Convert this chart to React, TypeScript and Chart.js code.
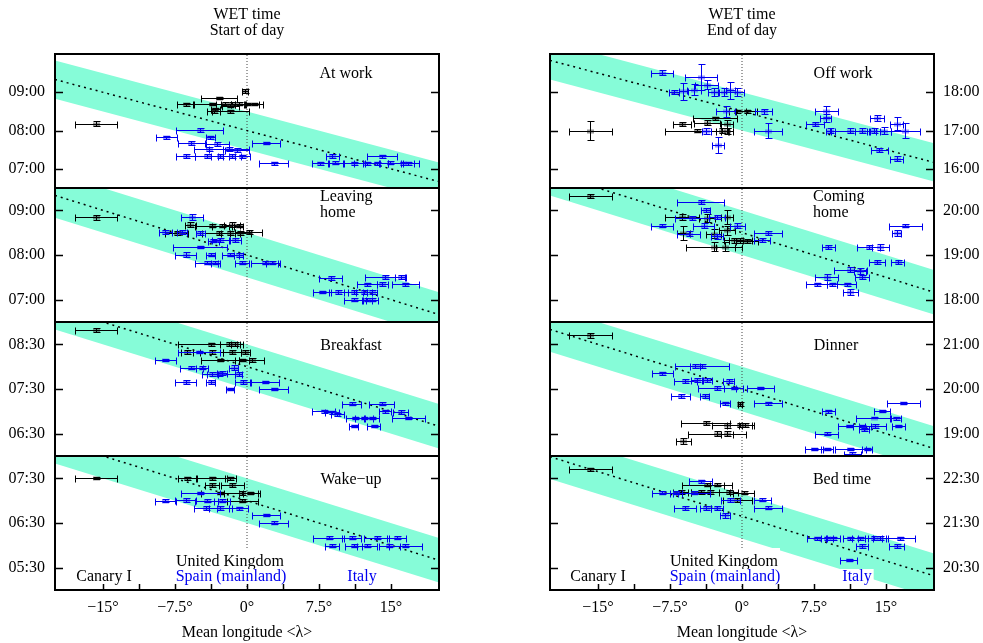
import React, { useEffect, useRef } from 'react';
import { Chart, registerables } from 'chart.js';

Chart.register(...registerables);

const FONT = "'Liberation Serif', 'Times New Roman', serif";
Chart.defaults.font.family = FONT;
Chart.defaults.font.size = 16;
Chart.defaults.color = '#000';

type Pt = [number, number, number, number]; // longitude, longitude error, time (h), time error (h)

// ---------------- axes / text ----------------
const lonRange = [-20, 20];
const lonTicks = [-15, -11.25, -7.5, -3.75, 0, 3.75, 7.5, 11.25, 15];
const lonTickLabels = ['−15°', '', '−7.5°', '', '0°', '', '7.5°', '', '15°'];
const xTitle = 'Mean longitude <λ>';
const columnTitles = [['WET time', 'Start of day'], ['WET time', 'End of day']];
const countryNames = ['United Kingdom', 'Canary I', 'Spain (mainland)', 'Italy'];

const panelNames = [['At work'], ['Leaving', 'home'], ['Breakfast'], ['Wake−up'], ['Off work'], ['Coming', 'home'], ['Dinner'], ['Bed time']];
const timeRanges = [[6.5, 10], [6.5, 9.5], [6, 9], [5, 8], [15.5, 19], [17.5, 20.5], [18.5, 21.5], [20, 23]];
const timeTicks = [[7, 8, 9], [7, 8, 9], [6.5, 7.5, 8.5], [5.5, 6.5, 7.5], [16, 17, 18], [18, 19, 20], [19, 20, 21], [20.5, 21.5, 22.5]];
const timeTickLabels = [
  ['07:00', '08:00', '09:00'], ['07:00', '08:00', '09:00'], ['06:30', '07:30', '08:30'], ['05:30', '06:30', '07:30'],
  ['16:00', '17:00', '18:00'], ['18:00', '19:00', '20:00'], ['19:00', '20:00', '21:00'], ['20:30', '21:30', '22:30'],
];
const fitIntercepts = [8.0, 8.0, 8.0, 7.0, 17.5, 19.5, 20.0, 21.65];
const fitSlope = -1 / 15;
const bandHalfWidth = 0.5;

// ---------------- data ----------------
const atWorkBlack: Pt[] = [
  [-15.7, 2.2, 8.18, 0.07], [-2.95, 1.86, 8.85, 0.03], [-0.17, 0.3, 9.03, 0.05], [-6.4, 0.85, 8.69, 0.04],
  [-3.65, 2.0, 8.69, 0.03], [-2.26, 1.0, 8.7, 0.04], [-1.56, 1.2, 8.7, 0.04], [-0.87, 0.8, 8.7, 0.04],
  [0.0, 1.2, 8.69, 0.03], [0.69, 0.95, 8.69, 0.03], [-1.74, 0.9, 8.65, 0.04], [-3.47, 0.7, 8.5, 0.05],
  [-1.74, 1.9, 8.5, 0.04], [-3.3, 0.5, 8.56, 0.04],
];
const atWorkBlue: Pt[] = [
  [-4.93, 2.43, 8.02, 0.05], [-8.4, 1.08, 7.82, 0.03], [-3.82, 0.5, 7.82, 0.04], [-5.8, 1.42, 7.67, 0.05],
  [-3.1, 1.2, 7.65, 0.05], [2.0, 1.44, 7.67, 0.03], [-4.0, 1.5, 7.51, 0.05], [-1.9, 2.1, 7.51, 0.05],
  [-1.04, 1.2, 7.49, 0.05], [-6.4, 0.95, 7.33, 0.05], [-4.2, 1.2, 7.33, 0.05], [-2.8, 0.9, 7.33, 0.05],
  [-1.56, 0.95, 7.33, 0.05], [-0.5, 0.8, 7.33, 0.04], [2.78, 1.5, 7.14, 0.05], [8.9, 0.7, 7.33, 0.05],
  [14.06, 1.56, 7.33, 0.04], [7.64, 0.9, 7.14, 0.05], [9.2, 0.8, 7.16, 0.04], [11.1, 1.0, 7.14, 0.04],
  [12.5, 1.4, 7.14, 0.04], [13.5, 1.2, 7.14, 0.05], [14.9, 1.1, 7.16, 0.04], [16.3, 1.6, 7.14, 0.05],
  [16.8, 0.6, 7.14, 0.04],
];
const leavingBlack: Pt[] = [
  [-15.7, 2.2, 8.84, 0.06], [-3.65, 1.8, 8.66, 0.04], [-2.6, 1.0, 8.66, 0.04], [-1.56, 0.8, 8.68, 0.05],
  [-0.87, 0.5, 8.66, 0.04], [-5.9, 0.6, 8.68, 0.06], [-7.3, 1.2, 8.49, 0.04], [-2.95, 1.7, 8.49, 0.04],
  [-1.74, 1.0, 8.49, 0.05], [-0.69, 1.1, 8.49, 0.04], [0.17, 1.4, 8.51, 0.04],
];
const leavingBlue: Pt[] = [
  [-5.73, 1.15, 8.85, 0.06], [-8.5, 0.7, 8.51, 0.04], [-6.8, 0.5, 8.51, 0.04], [-4.86, 0.5, 8.49, 0.04],
  [-3.5, 0.6, 8.32, 0.04], [-2.78, 0.9, 8.34, 0.05], [-1.2, 0.6, 8.34, 0.05], [-4.93, 2.8, 8.18, 0.03],
  [-6.4, 1.1, 8.01, 0.05], [-3.8, 0.5, 8.01, 0.04], [-1.74, 0.9, 8.01, 0.04], [-0.87, 0.5, 8.0, 0.04],
  [-4.2, 1.2, 7.83, 0.04], [-3.3, 0.5, 7.83, 0.04], [-0.5, 0.7, 7.83, 0.04], [1.9, 1.5, 7.83, 0.03],
  [2.6, 0.6, 7.83, 0.03], [8.7, 1.2, 7.49, 0.05], [14.4, 2.1, 7.51, 0.04], [16.0, 0.6, 7.51, 0.04],
  [12.5, 1.0, 7.34, 0.04], [14.1, 0.6, 7.35, 0.04], [16.5, 1.4, 7.34, 0.03], [7.8, 0.9, 7.17, 0.03],
  [9.5, 1.0, 7.17, 0.04], [11.1, 1.0, 7.17, 0.04], [12.2, 0.8, 7.17, 0.04], [13.0, 0.5, 7.17, 0.04],
  [11.1, 1.0, 7.0, 0.03], [12.5, 0.5, 7.0, 0.03], [13.0, 0.6, 7.0, 0.03],
];
const breakfastBlack: Pt[] = [
  [-15.7, 2.2, 8.82, 0.04], [-3.8, 3.4, 8.5, 0.04], [-1.9, 0.9, 8.51, 0.05], [-1.2, 0.5, 8.51, 0.05],
  [-6.25, 0.6, 8.33, 0.05], [-3.65, 1.2, 8.33, 0.04], [-1.56, 0.9, 8.33, 0.04], [-0.17, 0.5, 8.33, 0.04],
  [-2.8, 2.0, 8.15, 0.03], [-0.5, 0.7, 8.15, 0.03], [0.5, 1.3, 8.15, 0.04],
];
const breakfastBlue: Pt[] = [
  [-8.5, 1.1, 8.15, 0.03], [-5.0, 2.2, 8.33, 0.03], [-5.8, 1.2, 7.98, 0.04], [-4.7, 0.6, 7.98, 0.04],
  [-1.4, 0.5, 7.98, 0.05], [-2.95, 1.7, 7.83, 0.04], [-3.6, 0.6, 7.83, 0.04], [-2.6, 0.5, 7.86, 0.04],
  [-0.87, 0.4, 7.83, 0.04], [-6.4, 1.1, 7.66, 0.05], [-3.8, 0.5, 7.66, 0.04], [-0.45, 0.8, 7.66, 0.04],
  [1.9, 1.44, 7.66, 0.03], [-1.8, 0.4, 7.5, 0.03], [2.78, 1.5, 7.5, 0.03], [10.9, 1.0, 7.17, 0.03],
  [14.06, 1.3, 7.17, 0.03], [8.0, 1.2, 7.0, 0.03], [8.85, 0.7, 6.98, 0.03], [14.4, 0.6, 7.0, 0.03],
  [16.0, 0.8, 6.98, 0.04], [9.4, 0.7, 6.93, 0.03], [11.3, 1.0, 6.85, 0.03], [12.2, 0.9, 6.85, 0.03],
  [13.0, 0.8, 6.85, 0.03], [16.8, 1.7, 6.85, 0.03], [11.1, 0.5, 6.67, 0.03], [13.2, 0.7, 6.67, 0.03],
];
const wakeBlack: Pt[] = [
  [-15.7, 2.2, 7.51, 0.03], [-6.25, 0.9, 7.5, 0.04], [-3.65, 1.6, 7.5, 0.03], [-1.74, 0.55, 7.5, 0.04],
  [-3.65, 0.7, 7.35, 0.04], [-1.56, 1.2, 7.35, 0.04], [-2.8, 2.0, 7.17, 0.03], [-0.5, 1.9, 7.17, 0.04],
  [0.35, 0.8, 7.17, 0.03], [-0.5, 1.6, 7.0, 0.03],
];
const wakeBlue: Pt[] = [
  [-8.5, 1.1, 7.0, 0.04], [-6.4, 1.1, 7.01, 0.04], [-4.86, 2.0, 7.17, 0.03], [-4.2, 1.2, 7.0, 0.04],
  [-2.6, 0.8, 7.0, 0.04], [-4.3, 1.2, 6.83, 0.04], [-2.8, 1.2, 6.83, 0.04], [-0.87, 1.0, 6.83, 0.03],
  [2.0, 1.44, 6.68, 0.03], [2.78, 1.5, 6.51, 0.03], [8.5, 1.6, 6.17, 0.03], [10.9, 1.0, 6.17, 0.03],
  [13.5, 1.3, 6.17, 0.03], [15.6, 1.0, 6.17, 0.03], [8.85, 0.75, 5.99, 0.03], [11.1, 0.9, 5.99, 0.03],
  [12.5, 1.0, 5.99, 0.03], [14.8, 1.1, 5.99, 0.03], [16.5, 1.7, 5.99, 0.03],
];
const offWorkBlack: Pt[] = [
  [-15.8, 2.25, 17.0, 0.25], [-6.25, 0.9, 17.18, 0.05], [-4.7, 3.3, 17.0, 0.04], [-3.65, 1.4, 17.21, 0.06],
  [-2.8, 2.3, 17.32, 0.04], [-1.56, 0.6, 17.18, 0.1], [-1.56, 0.6, 17.0, 0.08], [-2.1, 0.6, 17.0, 0.06],
  [-0.5, 0.9, 17.5, 0.04], [0.5, 1.1, 17.5, 0.04],
];
const offWorkBlue: Pt[] = [
  [-8.3, 1.15, 18.51, 0.07], [-4.3, 1.65, 18.4, 0.35], [-6.1, 0.5, 18.03, 0.22], [-5.0, 0.7, 18.07, 0.15],
  [-3.65, 1.2, 18.2, 0.12], [-2.95, 0.6, 18.0, 0.1], [-1.9, 0.6, 18.0, 0.1], [-1.2, 0.5, 18.05, 0.23],
  [-0.5, 0.7, 18.0, 0.1], [-7.1, 0.5, 18.0, 0.05], [-1.7, 1.0, 17.5, 0.15], [2.26, 0.9, 17.5, 0.06],
  [2.7, 1.5, 17.0, 0.2], [-3.7, 0.5, 17.0, 0.08], [-2.5, 0.6, 16.62, 0.2], [8.8, 1.2, 17.5, 0.15],
  [8.7, 0.6, 17.32, 0.1], [7.6, 0.9, 17.18, 0.05], [9.2, 0.5, 17.0, 0.06], [11.3, 2.0, 17.0, 0.06],
  [12.5, 0.7, 17.0, 0.06], [13.7, 0.7, 17.0, 0.06], [14.75, 0.75, 17.0, 0.1], [17.0, 1.5, 17.0, 0.2],
  [14.06, 0.75, 17.32, 0.08], [16.1, 0.7, 17.18, 0.17], [14.3, 0.9, 16.5, 0.05], [16.1, 0.7, 16.27, 0.06],
];
const comingBlack: Pt[] = [
  [-15.8, 2.25, 20.32, 0.05], [-6.25, 1.8, 19.85, 0.07], [-6.1, 0.7, 19.49, 0.15], [-3.65, 0.8, 19.83, 0.08],
  [-2.95, 0.8, 19.48, 0.1], [-2.95, 2.9, 19.18, 0.1], [-1.74, 1.0, 19.18, 0.1], [-1.56, 0.6, 19.85, 0.15],
  [-1.56, 0.8, 19.55, 0.1], [-0.87, 1.0, 19.33, 0.06], [-0.17, 1.2, 19.33, 0.06], [0.52, 1.1, 19.31, 0.05],
];
const comingBlue: Pt[] = [
  [-4.3, 2.45, 20.19, 0.05], [-3.8, 0.5, 20.01, 0.05], [-8.3, 1.15, 19.66, 0.04], [-5.2, 1.8, 19.83, 0.05],
  [-4.0, 1.1, 19.66, 0.05], [-2.6, 0.8, 19.85, 0.05], [-5.55, 1.2, 19.48, 0.05], [-0.5, 0.8, 19.66, 0.05],
  [-2.6, 0.6, 19.42, 0.06], [2.7, 1.5, 19.49, 0.05], [2.1, 0.8, 19.33, 0.04], [17.0, 1.7, 19.66, 0.04],
  [16.1, 0.5, 19.49, 0.06], [9.0, 0.7, 19.18, 0.05], [13.2, 1.2, 19.18, 0.05], [14.4, 0.9, 19.18, 0.06],
  [14.06, 0.8, 18.84, 0.05], [16.2, 0.7, 18.84, 0.04], [11.3, 1.7, 18.67, 0.06], [12.3, 0.6, 18.64, 0.06],
  [12.5, 0.7, 18.51, 0.05], [8.85, 1.2, 18.51, 0.06], [7.8, 1.1, 18.34, 0.03], [9.4, 0.5, 18.34, 0.04],
  [10.9, 1.0, 18.34, 0.04], [11.3, 0.8, 18.17, 0.06],
];
const dinnerBlack: Pt[] = [
  [-15.8, 2.25, 21.2, 0.05], [-0.17, 0.2, 19.66, 0.05], [-3.8, 2.6, 19.24, 0.05], [-1.56, 1.6, 19.19, 0.06],
  [-0.17, 1.4, 19.19, 0.05], [0.35, 0.7, 19.19, 0.04], [-2.6, 3.0, 19.0, 0.05], [-1.56, 0.6, 19.0, 0.05],
  [-6.1, 0.8, 18.83, 0.07],
];
const dinnerBlue: Pt[] = [
  [-4.2, 2.8, 20.52, 0.05], [-4.9, 0.5, 20.52, 0.05], [-8.3, 1.1, 20.35, 0.03], [-5.9, 1.2, 20.18, 0.04],
  [-4.7, 0.6, 20.2, 0.04], [-3.65, 0.5, 20.2, 0.04], [-1.4, 0.6, 20.18, 0.04], [-2.6, 2.0, 20.02, 0.04],
  [-0.87, 1.0, 20.02, 0.03], [1.9, 1.4, 20.02, 0.03], [-6.4, 1.0, 19.84, 0.04], [-3.9, 0.5, 19.84, 0.04],
  [-1.74, 0.5, 19.68, 0.04], [2.7, 1.5, 19.68, 0.04], [16.8, 1.7, 19.68, 0.02], [9.0, 0.7, 19.5, 0.04],
  [14.6, 0.8, 19.5, 0.02], [16.0, 0.6, 19.34, 0.04], [13.7, 1.8, 19.36, 0.02], [11.1, 1.1, 19.17, 0.03],
  [12.5, 0.9, 19.17, 0.03], [13.9, 1.1, 19.17, 0.04], [16.3, 0.7, 19.17, 0.03], [12.7, 0.5, 19.1, 0.03],
  [8.85, 1.2, 19.0, 0.03], [7.5, 0.9, 18.66, 0.02], [8.85, 0.6, 18.66, 0.02], [11.3, 1.6, 18.66, 0.02],
  [13.0, 0.5, 18.66, 0.02], [11.5, 0.85, 18.55, 0.04],
];
const bedBlack: Pt[] = [
  [-15.8, 2.25, 22.7, 0.03], [-3.65, 2.6, 22.36, 0.04], [-2.6, 0.7, 22.36, 0.03], [-6.4, 0.8, 22.19, 0.05],
  [-3.3, 2.0, 22.19, 0.04], [-1.4, 1.0, 22.19, 0.05], [0.17, 1.1, 22.18, 0.04], [-0.5, 1.5, 22.02, 0.04],
  [-4.3, 1.0, 22.2, 0.04],
];
const bedBlue: Pt[] = [
  [-4.3, 1.2, 22.43, 0.03], [-8.3, 1.1, 22.18, 0.03], [-5.0, 1.7, 22.18, 0.04], [-6.9, 0.6, 22.18, 0.04],
  [-1.2, 1.0, 22.02, 0.04], [2.1, 0.9, 22.02, 0.03], [-5.9, 1.15, 21.84, 0.04], [-3.8, 0.55, 21.84, 0.04],
  [-2.6, 0.6, 21.84, 0.04], [2.7, 1.5, 21.84, 0.03], [-1.74, 0.5, 21.67, 0.05], [7.8, 1.05, 21.16, 0.03],
  [8.85, 0.6, 21.16, 0.03], [9.5, 0.7, 21.16, 0.03], [11.3, 0.8, 21.16, 0.03], [12.3, 0.8, 21.16, 0.03],
  [13.7, 0.9, 21.16, 0.04], [14.4, 0.8, 21.16, 0.04], [16.5, 1.5, 21.16, 0.03], [12.5, 0.6, 20.99, 0.04],
  [16.1, 0.75, 20.99, 0.04], [11.1, 0.85, 20.67, 0.03],
];

const blackSeries = [atWorkBlack, leavingBlack, breakfastBlack, wakeBlack, offWorkBlack, comingBlack, dinnerBlack, bedBlack];
const blueSeries = [atWorkBlue, leavingBlue, breakfastBlue, wakeBlue, offWorkBlue, comingBlue, dinnerBlue, bedBlue];

// ---------------- styling / layout ----------------
const BLACK = '#000000';
const BLUE = '#0000f0';
const BAND = '#86fcd8';
const MARK = { [BLACK]: 'rgba(60,60,60,0.55)', [BLUE]: 'rgba(70,70,255,0.55)' } as Record<string, string>;

// panel name placement, relative to the plot area (px)
const nameLayout = [
  { x: 291, y: 20, align: 'center' }, { x: 265, y: 9, align: 'left' }, { x: 296, y: 24, align: 'center' }, { x: 296, y: 24, align: 'center' },
  { x: 293, y: 20, align: 'center' }, { x: 263, y: 9, align: 'left' }, { x: 286, y: 24, align: 'center' }, { x: 292, y: 24, align: 'center' },
];
const countryLayout = [
  [{ x: 175, y: 106, c: BLACK, top: 6 }, { x: 49, y: 121, c: BLACK, top: 0 }, { x: 176, y: 121, c: BLUE, top: 0 }, { x: 307, y: 121, c: BLUE, top: 0 }],
  [{ x: 174, y: 106, c: BLACK, top: 6 }, { x: 48, y: 121, c: BLACK, top: 0 }, { x: 175, y: 121, c: BLUE, top: 0 }, { x: 307, y: 121, c: BLUE, top: 0 }],
];

function canvasGeom(col: number, row: number) {
  const l = col === 0 ? 0 : 540;
  const w = col === 0 ? 449 : 443;
  if (row === 0) return { l, w, t: 0, h: 191 };
  if (row === 3) return { l, w, t: 453, h: 190 };
  return { l, w, t: 54 + 134 * row - 3, h: 140 };
}

function buildConfig(idx: number): any {
  const col = idx < 4 ? 0 : 1;
  const row = idx % 4;
  const isLeft = col === 0;
  const isTop = row === 0;
  const isBottom = row === 3;
  const [yMin, yMax] = timeRanges[idx];
  const fitAt = (lon: number) => fitIntercepts[idx] + fitSlope * lon;
  const [lo, hi] = lonRange;
  const toPts = (arr: Pt[]) => arr.map(([x, xe, y, ye]) => ({ x, y, xe, ye }));

  const deco = {
    id: 'deco',
    afterDatasetsDraw(chart: any) {
      const { ctx, chartArea: a } = chart;
      const xs = chart.scales.x;
      const ys = chart.scales.y;
      ctx.save();
      ctx.beginPath();
      ctx.rect(a.left, a.top, a.right - a.left, a.bottom - a.top);
      ctx.clip();
      chart.data.datasets.forEach((ds: any) => {
        if (!ds.errorBars) return;
        ctx.lineWidth = 1;
        ds.data.forEach((p: any) => {
          const px = Math.round(xs.getPixelForValue(p.x)) + 0.5;
          const py = Math.round(ys.getPixelForValue(p.y)) + 0.5;
          const x0 = Math.round(xs.getPixelForValue(p.x - p.xe)) + 0.5;
          const x1 = Math.round(xs.getPixelForValue(p.x + p.xe)) + 0.5;
          const y0 = Math.round(ys.getPixelForValue(p.y - p.ye)) + 0.5;
          const y1 = Math.round(ys.getPixelForValue(p.y + p.ye)) + 0.5;
          ctx.fillStyle = MARK[ds.borderColor];
          ctx.fillRect(px - 3.5, py - 2, 7, 4);
          ctx.strokeStyle = ds.borderColor;
          ctx.beginPath();
          ctx.moveTo(x0, py); ctx.lineTo(x1, py);
          ctx.moveTo(x0, py - 3); ctx.lineTo(x0, py + 4);
          ctx.moveTo(x1, py - 3); ctx.lineTo(x1, py + 4);
          ctx.moveTo(px, y0); ctx.lineTo(px, y1);
          ctx.moveTo(px - 3, y0); ctx.lineTo(px + 4, y0);
          ctx.moveTo(px - 3, y1); ctx.lineTo(px + 4, y1);
          ctx.stroke();
        });
      });
      ctx.restore();
    },
    afterDraw(chart: any) {
      const { ctx, chartArea: a } = chart;
      const xs = chart.scales.x;
      const ys = chart.scales.y;
      ctx.save();
      ctx.font = `16px ${FONT}`;
      ctx.textBaseline = 'middle';
      ctx.textAlign = 'left';
      const drawLabel = (text: string, cx: number, cy: number, align: string, color: string, box: number | null) => {
        const w = ctx.measureText(text).width;
        const lx = align === 'center' ? a.left + cx - w / 2 : a.left + cx;
        const ly = a.top + cy;
        if (box !== null) {
          ctx.fillStyle = '#ffffff';
          ctx.fillRect(lx - 2, ly - 8 - box, w + 4, 17 + box);
        }
        ctx.fillStyle = color;
        ctx.fillText(text, lx, ly);
      };
      const nl = nameLayout[idx];
      panelNames[idx].forEach((line, i) => drawLabel(line, nl.x, nl.y + i * 16, nl.align, BLACK, null));
      if (isBottom) {
        countryNames.forEach((name, i) => {
          const c = countryLayout[col][i];
          drawLabel(name, c.x, c.y, 'center', c.c, c.top);
        });
      }
      // frame
      ctx.strokeStyle = '#000';
      ctx.lineWidth = 2;
      ctx.strokeRect(a.left, a.top, a.right - a.left, a.bottom - a.top);
      // inward tick marks
      ctx.lineWidth = 1.5;
      ctx.beginPath();
      timeTicks[idx].forEach((v) => {
        const py = Math.round(ys.getPixelForValue(v)) + 0.5;
        ctx.moveTo(a.left, py); ctx.lineTo(a.left + 8, py);
        ctx.moveTo(a.right, py); ctx.lineTo(a.right - 8, py);
      });
      if (isBottom) {
        lonTicks.forEach((v) => {
          const px = Math.round(xs.getPixelForValue(v)) + 0.5;
          ctx.moveTo(px, a.bottom); ctx.lineTo(px, a.bottom - 6);
        });
      }
      ctx.stroke();
      ctx.restore();
    },
  };

  return {
    type: 'line',
    data: {
      datasets: [
        {
          data: [{ x: lo, y: fitAt(lo) + bandHalfWidth }, { x: hi, y: fitAt(hi) + bandHalfWidth }],
          borderWidth: 0, pointRadius: 0, backgroundColor: BAND, borderColor: BAND, fill: '+1', order: 5,
        },
        {
          data: [{ x: lo, y: fitAt(lo) - bandHalfWidth }, { x: hi, y: fitAt(hi) - bandHalfWidth }],
          borderWidth: 0, pointRadius: 0, borderColor: BAND, fill: false, order: 5,
        },
        {
          data: [{ x: 0, y: yMin }, { x: 0, y: yMax }],
          borderColor: '#444', borderWidth: 1, borderDash: [1, 2], pointRadius: 0, fill: false, order: 3,
        },
        {
          data: [{ x: lo, y: fitAt(lo) }, { x: hi, y: fitAt(hi) }],
          borderColor: '#000', borderWidth: 1.5, borderDash: [2, 4], pointRadius: 0, fill: false, order: 2,
        },
        {
          type: 'scatter', data: toPts(blackSeries[idx]), borderColor: BLACK, backgroundColor: BLACK,
          pointRadius: 0, borderWidth: 0, errorBars: true, order: 1,
        },
        {
          type: 'scatter', data: toPts(blueSeries[idx]), borderColor: BLUE, backgroundColor: BLUE,
          pointRadius: 0, borderWidth: 0, errorBars: true, order: 1,
        },
      ],
    },
    options: {
      responsive: false,
      maintainAspectRatio: false,
      animation: false,
      events: [],
      layout: {
        padding: {
          left: isLeft ? 0 : 10,
          right: isLeft ? 10 : 0,
          top: isTop ? 0 : 3,
          bottom: isBottom ? 0 : 3,
        },
      },
      plugins: {
        legend: { display: false },
        tooltip: { enabled: false },
        title: {
          display: isTop,
          text: columnTitles[col],
          color: '#000',
          fullSize: false,
          font: { size: 16, weight: 'normal', lineHeight: 1, family: FONT },
          padding: { top: 7, bottom: 15 },
        },
      },
      scales: {
        x: {
          type: 'linear',
          min: lo,
          max: hi,
          display: isBottom,
          grid: { display: false, drawTicks: false },
          border: { display: false },
          afterBuildTicks: (ax: any) => { ax.ticks = lonTicks.map((v) => ({ value: v })); },
          afterFit: (s: any) => {
            s.height = isBottom ? 53 : 0;
            s.paddingLeft = 0;
            s.paddingRight = 0;
            s.paddingTop = 0;
            s.paddingBottom = 0;
          },
          ticks: {
            autoSkip: false,
            maxRotation: 0,
            padding: 8,
            color: '#000',
            font: { size: 16, family: FONT },
            callback: (_v: any, i: number) => lonTickLabels[i],
          },
          title: {
            display: true,
            text: xTitle,
            color: '#000',
            font: { size: 16, family: FONT },
            padding: { top: 0, bottom: 1 },
          },
        },
        y: {
          type: 'linear',
          position: isLeft ? 'left' : 'right',
          min: yMin,
          max: yMax,
          grid: { display: false, drawTicks: false },
          border: { display: false },
          afterBuildTicks: (ax: any) => { ax.ticks = timeTicks[idx].map((v) => ({ value: v })); },
          afterFit: (s: any) => {
            s.width = isLeft ? 55 : 49;
            s.paddingTop = 0;
            s.paddingBottom = 0;
            s.paddingLeft = 0;
            s.paddingRight = 0;
          },
          ticks: {
            autoSkip: false,
            padding: isLeft ? 10 : 9,
            color: '#000',
            font: { size: 16, family: FONT },
            callback: (_v: any, i: number) => timeTickLabels[idx][i],
          },
        },
      },
    },
    plugins: [deco],
  };
}

function Panel({ idx }: { idx: number }) {
  const ref = useRef<HTMLCanvasElement>(null);
  const col = idx < 4 ? 0 : 1;
  const row = idx % 4;
  const g = canvasGeom(col, row);
  useEffect(() => {
    const chart = new Chart(ref.current as HTMLCanvasElement, buildConfig(idx));
    return () => chart.destroy();
  }, [idx]);
  return (
    <canvas
      ref={ref}
      width={g.w}
      height={g.h}
      style={{ position: 'absolute', left: g.l, top: g.t, width: g.w, height: g.h }}
    />
  );
}

export default function App() {
  return (
    <div style={{ position: 'absolute', left: 0, top: 0, width: 983, height: 643, background: '#fff', overflow: 'hidden' }}>
      {[0, 1, 2, 3, 4, 5, 6, 7].map((i) => (
        <Panel key={i} idx={i} />
      ))}
    </div>
  );
}
